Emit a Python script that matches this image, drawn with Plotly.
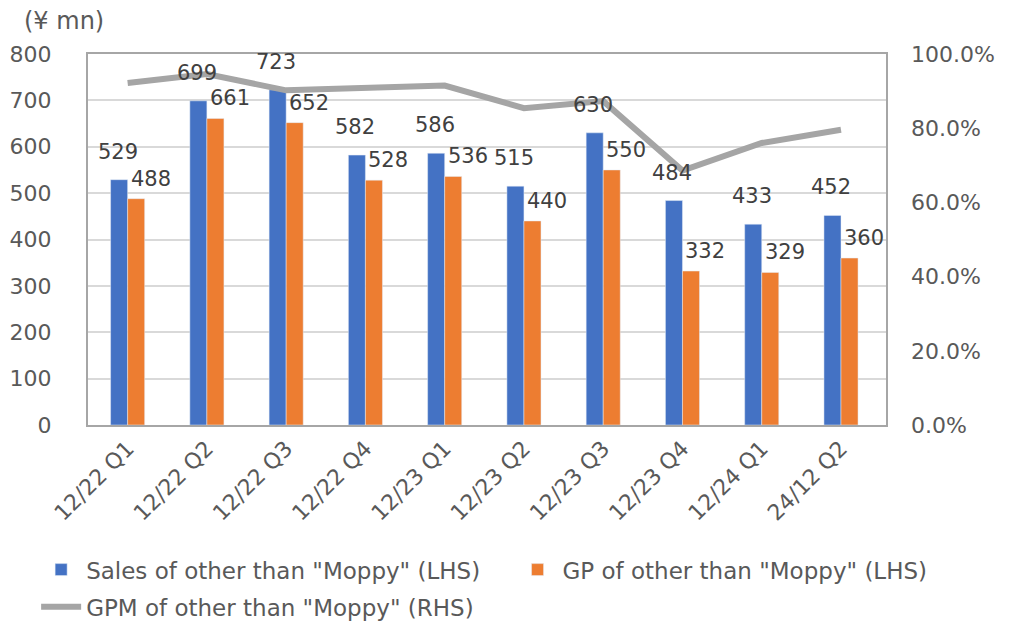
import plotly.graph_objects as go

categories = ["12/22 Q1", "12/22 Q2", "12/22 Q3", "12/22 Q4", "12/23 Q1",
              "12/23 Q2", "12/23 Q3", "12/23 Q4", "12/24 Q1", "24/12 Q2"]
sales = [529, 699, 723, 582, 586, 515, 630, 484, 433, 452]
gp = [488, 661, 652, 528, 536, 440, 550, 332, 329, 360]
gpm = [0.922, 0.946, 0.902, 0.907, 0.915, 0.854, 0.873, 0.686, 0.760, 0.796]

FONT = "DejaVu Sans"
TXT = "#404040"
TICK = "#595959"

fig = go.Figure()
fig.add_trace(go.Bar(x=categories, y=sales, name='Sales of other than "Moppy" (LHS)',
                     marker=dict(color="#4472C4"), yaxis="y", legend="legend"))
fig.add_trace(go.Bar(x=categories, y=gp, name='GP of other than "Moppy" (LHS)',
                     marker=dict(color="#ED7D31"), yaxis="y", legend="legend2"))
fig.add_trace(go.Scatter(x=categories, y=gpm, name='GPM of other than "Moppy" (RHS)',
                         mode="lines", line=dict(color="#A5A5A5", width=6), yaxis="y2",
                         legend="legend3"))

annotations = []
for c, v in zip(categories, sales):
    annotations.append(dict(x=c, y=v, xref="x", yref="y", text=str(v), showarrow=False,
                            yanchor="bottom", xshift=-10, yshift=14,
                            font=dict(family=FONT, size=21, color=TXT)))
for c, v in zip(categories, gp):
    annotations.append(dict(x=c, y=v, xref="x", yref="y", text=str(v), showarrow=False,
                            yanchor="bottom", xshift=23, yshift=6,
                            font=dict(family=FONT, size=21, color=TXT)))
annotations.append(dict(x=-0.083, y=1.089, xref="paper", yref="paper", text="(¥ mn)",
                        showarrow=False, xanchor="left", yanchor="middle",
                        font=dict(family=FONT, size=24, color=TICK)))

leg_font = dict(family=FONT, size=23, color=TICK)
common = dict(orientation="h", xanchor="left", yanchor="top", font=leg_font,
              bgcolor="rgba(0,0,0,0)", itemwidth=40)

fig.update_layout(
    width=1019, height=626,
    margin=dict(l=80, r=141, t=46, b=209, autoexpand=False),
    paper_bgcolor="white", plot_bgcolor="white",
    barmode="group", bargap=0.57, bargroupgap=0,
    font=dict(family=FONT, size=20, color=TICK),
    showlegend=True,
    legend=dict(x=-0.065, y=-0.332, **common),
    legend2=dict(x=0.532, y=-0.332, **common),
    legend3=dict(x=-0.065, y=-0.432, **common),
    xaxis=dict(tickangle=-45, tickfont=dict(family=FONT, size=22, color=TICK),
               showline=True, linecolor="#A6A6A6", linewidth=2, mirror=True,
               ticks="", showgrid=False, automargin=False),
    yaxis=dict(range=[0, 800], dtick=100, showgrid=True, gridcolor="#D9D9D9", gridwidth=1.5,
               tickfont=dict(family=FONT, size=22, color=TICK), zeroline=False,
               showline=True, linecolor="#A6A6A6", linewidth=2, mirror=True, ticks="",
               automargin=False, ticklabelstandoff=30),
    yaxis2=dict(range=[0, 1.0], dtick=0.2, tickformat=".1%", overlaying="y", side="right",
                showgrid=False, zeroline=False, tickfont=dict(family=FONT, size=22, color=TICK),
                ticks="", showline=False, automargin=False, ticklabelstandoff=24),
    annotations=annotations,
)

fig.write_html("out.html")
